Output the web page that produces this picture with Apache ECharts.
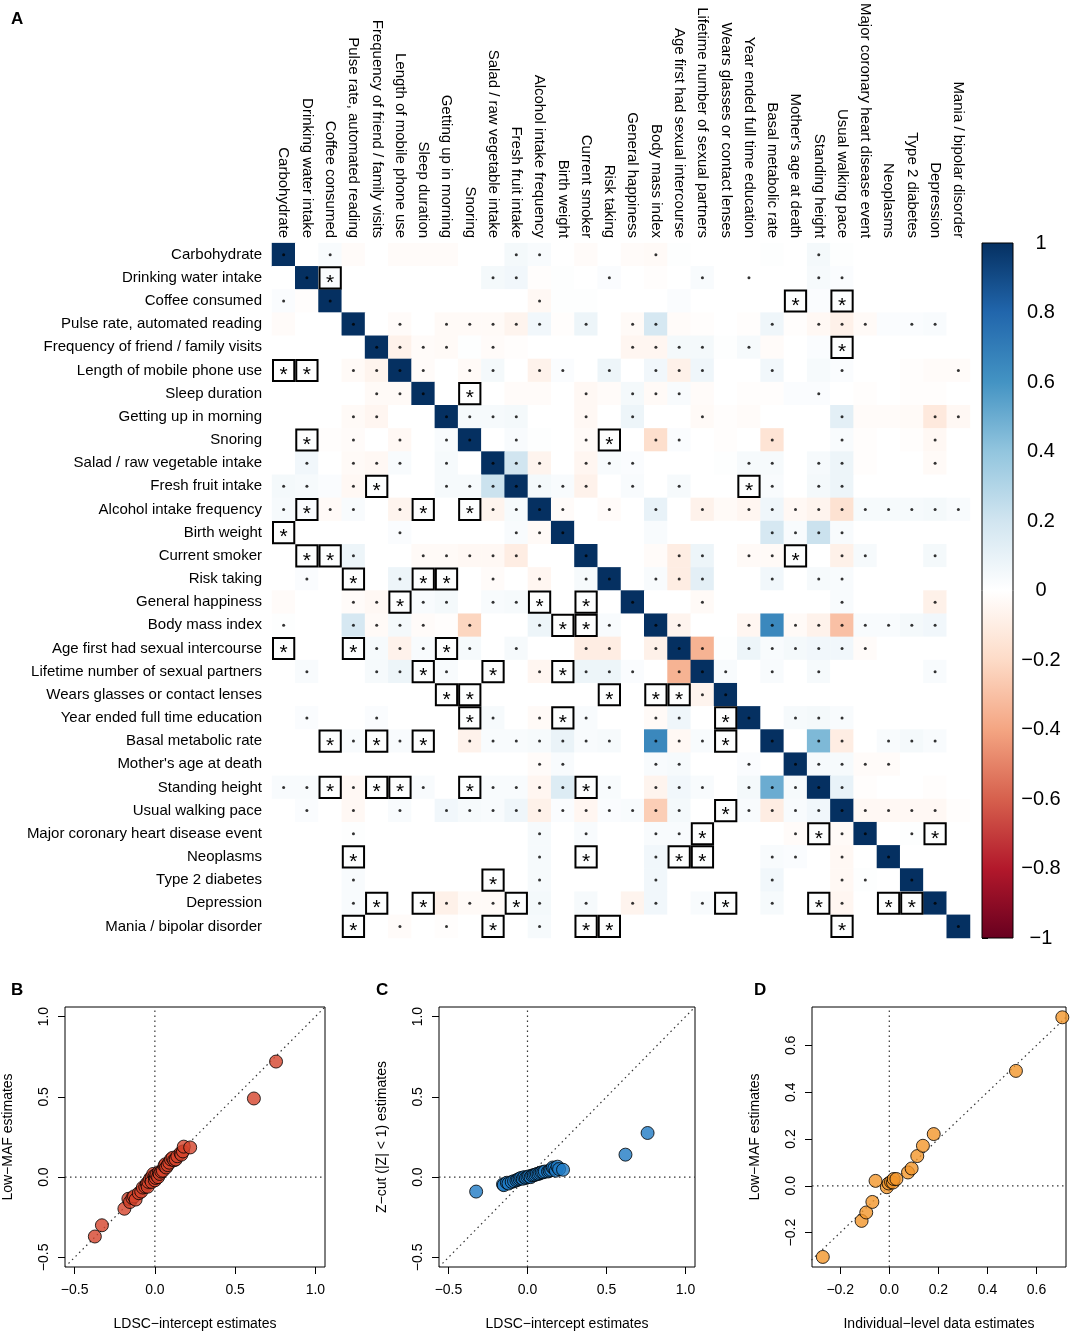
<!DOCTYPE html>
<html>
<head>
<meta charset="utf-8">
<script src="https://cdn.jsdelivr.net/npm/echarts@6/dist/echarts.min.js"></script>
<style>
  html, body { margin: 0; padding: 0; background: #fff; }
  #fig { width: 1076px; height: 1339px; }
</style>
</head>
<body>
<div id="fig"></div>
<script>
// Data
// ------------------------------

var traits = ['Carbohydrate', 'Drinking water intake', 'Coffee consumed', 'Pulse rate, automated reading',
    'Frequency of friend / family visits', 'Length of mobile phone use', 'Sleep duration', 'Getting up in morning',
    'Snoring', 'Salad / raw vegetable intake', 'Fresh fruit intake', 'Alcohol intake frequency', 'Birth weight',
    'Current smoker', 'Risk taking', 'General happiness', 'Body mass index', 'Age first had sexual intercourse',
    'Lifetime number of sexual partners', 'Wears glasses or contact lenses', 'Year ended full time education',
    'Basal metabolic rate', "Mother's age at death", 'Standing height', 'Usual walking pace',
    'Major coronary heart disease event', 'Neoplasms', 'Type 2 diabetes', 'Depression', 'Mania / bipolar disorder'];

// correlation estimates, one row per trait (row = y, column = x)
var corrRows = [
    [1, 0, 0.03, -0.02, 0, -0.02, -0.02, -0.02, 0, 0, 0.05, 0.03, 0, -0.02, 0, -0.02, -0.03, 0.01, 0, 0, 0, 0.01, 0, 0.05, 0.01, 0, 0, 0, 0, 0],
    [0, 1, 0.02, 0, 0, 0, 0, 0, 0, 0.05, 0.06, -0.01, 0.01, 0, 0.02, 0, -0.01, 0, 0.03, 0, 0, 0, 0, 0.04, 0.02, 0, 0, 0, 0, 0],
    [0.02, -0.01, 1, 0, 0, 0, 0, 0, 0, 0, 0, -0.04, 0.01, 0.01, 0, 0, 0, 0.02, 0, 0, 0, 0, 0.01, 0.02, 0.01, 0, 0, 0, 0, 0],
    [-0.02, 0, 0, 1, 0, -0.02, 0, -0.03, -0.03, -0.03, -0.06, 0.06, -0.01, 0.08, 0, -0.03, 0.18, -0.02, -0.01, 0, -0.01, 0.07, -0.01, -0.04, -0.08, -0.03, 0.02, 0.02, 0.03, 0],
    [0, 0, 0, 0, 1, -0.07, -0.02, -0.03, 0.01, -0.02, -0.01, 0, 0, 0, 0, -0.05, -0.05, 0.05, 0.05, 0.01, 0.04, -0.02, 0, 0.02, 0.01, 0, 0, 0, 0, 0],
    [0, 0, 0, -0.03, -0.06, 1, -0.02, 0, -0.03, 0.05, 0, -0.07, 0.02, 0, 0.08, 0, 0.06, -0.08, 0.07, 0, 0, 0.06, 0, 0.04, 0.02, 0, 0, -0.01, -0.02, -0.02],
    [0, 0, 0, 0, -0.03, -0.03, 1, 0, 0, 0, -0.02, -0.02, 0, -0.04, -0.02, 0.05, -0.03, 0.03, -0.02, 0, -0.01, -0.01, 0.02, 0.02, 0, -0.01, 0, -0.01, -0.01, 0],
    [0, 0, 0, -0.03, -0.05, 0, 0, 1, 0.04, 0.04, 0.05, 0, 0, -0.04, 0, 0.08, 0, 0, -0.03, -0.01, -0.02, 0, 0, 0, 0.12, -0.02, -0.02, -0.03, -0.12, -0.04],
    [0, 0.01, -0.01, -0.02, 0, -0.04, 0, 0.03, 1, 0, 0.03, 0.01, 0, -0.03, 0.01, 0, -0.18, 0.02, 0, -0.01, 0, -0.15, 0, 0, 0.03, -0.01, 0, -0.01, -0.04, 0],
    [0, 0.06, 0, -0.03, -0.04, 0.03, 0, 0.04, 0, 1, 0.2, -0.06, 0, -0.05, 0.03, 0.02, 0, 0, 0, 0.01, 0.04, 0.04, 0, 0.04, 0.08, -0.01, 0, 0, -0.03, 0],
    [0.05, 0.04, 0.02, -0.04, 0.01, 0, 0, 0.04, 0.04, 0.22, 1, 0.05, 0.03, -0.07, 0, 0.03, 0, 0.04, 0, 0, 0.01, 0.03, 0, 0.05, 0.08, 0, 0, 0, 0, 0],
    [0.04, 0.02, -0.03, 0.03, 0, -0.06, 0.01, 0, 0.01, -0.06, 0.04, 1, -0.02, 0, -0.02, 0, 0.1, 0, -0.07, -0.03, -0.05, 0.07, -0.04, -0.06, -0.16, 0.04, 0.04, 0.04, 0.05, 0.03],
    [0.01, 0, 0, 0, 0, 0.02, 0, 0, 0, 0, 0.03, -0.03, 1, 0, 0, 0, 0.03, 0, 0, 0, 0, 0.18, 0.03, 0.22, 0.03, 0, 0, 0, 0, 0],
    [0, 0.01, 0.01, 0.08, 0, 0, -0.03, -0.03, -0.04, -0.04, -0.1, 0, 0, 1, 0, 0, -0.02, -0.1, 0.08, 0, -0.03, -0.03, 0.01, 0, -0.08, 0.04, 0, 0, 0.05, 0],
    [0, 0.02, 0, 0.01, 0, 0.08, 0.01, 0.01, 0, -0.02, 0, -0.05, 0, 0.04, 1, 0, 0.03, -0.1, 0.12, 0, 0, 0.06, 0, 0.04, 0.03, 0, 0, 0, 0, 0],
    [-0.02, 0, 0, -0.02, -0.04, 0.01, 0.03, 0.05, 0, 0.03, 0.04, 0.01, 0, 0.01, 0, 1, 0, 0, -0.03, 0, 0, 0, 0, 0, 0.03, 0, 0, 0, -0.08, 0],
    [0.01, 0, 0, 0.18, -0.03, 0.05, -0.02, -0.01, -0.22, 0, 0, 0.08, 0.01, 0.01, 0.03, 0, 1, -0.06, 0, 0, -0.05, 0.65, -0.03, -0.07, -0.3, 0.03, 0.03, 0.05, 0.06, 0],
    [0.01, 0, 0, 0.01, 0.04, -0.07, 0.03, 0.01, 0.04, 0, 0.04, 0, 0, -0.1, -0.1, 0, -0.08, 1, -0.35, 0.01, 0.08, 0.03, 0.05, 0.06, 0.06, -0.02, 0, 0, 0, 0],
    [0, 0.03, 0, 0, 0.04, 0.08, 0.01, 0.03, 0, 0.01, 0, -0.05, 0.01, 0.08, 0.08, 0.02, 0, -0.35, 1, 0.03, 0, 0.03, 0, 0.04, 0, 0, 0, 0, 0.03, 0],
    [0, 0, 0, 0, 0, 0, 0, 0.01, 0.01, 0, 0, 0, 0, 0, 0.01, 0, 0.01, 0.01, -0.06, 1, 0, 0, 0, 0, 0, 0, 0, 0, 0, 0],
    [0, 0.02, 0, 0, 0.02, 0, 0, 0, 0.01, 0.04, 0, -0.03, 0.01, 0.03, 0, 0, -0.03, 0.07, 0, 0.01, 1, 0, 0.04, 0.05, 0.03, 0, 0, 0, 0, 0],
    [0, 0, 0.01, 0.03, 0.01, 0.03, 0.01, 0, -0.07, 0.03, 0.03, 0.04, 0.09, 0.03, 0.04, 0, 0.65, -0.04, 0.03, 0.01, 0, 1, 0, 0.45, -0.1, 0, 0.03, 0.05, 0.03, 0],
    [0, 0, 0, 0, 0, 0, 0, 0, 0, 0, 0, -0.02, 0.03, 0, 0, 0, 0.03, 0.04, 0, 0, 0.02, 0, 1, 0.04, 0.04, -0.02, -0.02, 0, 0, 0],
    [0.03, 0.03, 0.01, -0.04, 0.01, 0.01, 0.03, 0, 0.01, 0.03, 0.03, -0.05, 0.15, 0.01, 0.03, 0, -0.06, 0.06, 0.03, 0, 0.05, 0.5, 0.04, 1, 0.1, -0.01, 0, 0, -0.01, 0],
    [0, 0.02, 0, -0.04, 0, 0.03, 0, 0.06, 0.04, 0.03, 0.07, -0.08, 0.02, -0.05, 0.02, 0.03, -0.25, 0.05, 0, 0.01, 0.03, -0.1, 0.03, 0.06, 1, -0.04, -0.04, -0.04, -0.04, -0.01],
    [0, 0, 0, 0.01, 0, 0, 0, 0, 0, 0, 0, 0.04, 0, 0.03, 0, 0, 0.03, 0.03, 0.01, 0, 0, 0, -0.02, 0.01, -0.03, 1, 0, 0.01, 0.01, 0],
    [0, 0, 0, 0.01, 0, 0, 0, 0, 0, 0, 0, 0.04, 0, 0.01, 0, 0, 0.06, 0.01, 0.01, 0, 0, 0.03, 0.02, 0, -0.04, 0, 1, 0, 0, 0],
    [0, 0, 0, 0.03, 0, 0, 0, 0, 0, 0.01, 0, 0.04, 0, 0, 0, 0, 0.06, 0, 0, 0, 0, 0.06, 0, 0, -0.04, 0.01, 0, 1, 0, 0],
    [0, 0, 0, 0.03, 0.01, 0, 0.01, -0.08, -0.03, -0.03, 0.01, 0.05, 0, 0.04, 0, -0.06, 0.06, 0, 0.03, 0.01, 0, 0.04, 0, 0.01, -0.05, 0, 0.01, 0.01, 1, 0],
    [0, 0, 0, 0.01, 0, -0.02, 0, -0.01, 0, 0.01, 0, 0.04, 0, 0.01, 0.01, 0, 0, 0, 0, 0, 0, 0, 0, 0, 0.01, 0, 0, 0, 0, 1]
];

// columns marked with a small dot, per row
var dotCols = [
    [0, 2, 10, 11, 16, 23],
    [1, 9, 10, 14, 18, 20, 23, 24],
    [0, 2, 11],
    [3, 5, 7, 8, 9, 10, 11, 13, 15, 16, 21, 23, 24, 25, 27, 28],
    [4, 5, 6, 7, 9, 15, 16, 17, 18, 20],
    [3, 4, 5, 6, 8, 9, 11, 12, 14, 16, 17, 18, 21, 24, 29],
    [4, 5, 6, 13, 15, 16, 17, 23],
    [3, 4, 7, 8, 9, 10, 13, 15, 18, 24, 28, 29],
    [3, 5, 7, 8, 10, 13, 16, 17, 21, 24, 28],
    [1, 3, 4, 5, 7, 9, 10, 11, 13, 14, 15, 20, 21, 23, 24, 28],
    [0, 1, 3, 7, 8, 9, 10, 11, 12, 13, 15, 17, 21, 23, 24],
    [0, 2, 3, 5, 9, 10, 11, 12, 14, 16, 18, 20, 21, 22, 23, 24, 25, 26, 27, 28, 29],
    [5, 10, 11, 12, 21, 22, 23, 24],
    [3, 6, 7, 8, 9, 10, 13, 17, 18, 20, 21, 24, 25, 28],
    [1, 5, 9, 11, 13, 14, 16, 17, 18, 21, 23, 24],
    [3, 4, 6, 7, 9, 10, 15, 18, 24, 28],
    [0, 3, 4, 5, 6, 8, 11, 14, 16, 17, 20, 21, 22, 23, 24, 25, 26, 27, 28],
    [4, 5, 6, 8, 10, 13, 14, 16, 17, 18, 20, 21, 22, 23, 24, 25],
    [1, 4, 5, 7, 11, 13, 14, 15, 17, 18, 19, 21, 23, 28],
    [18, 19],
    [1, 4, 9, 11, 13, 16, 17, 20, 22, 23, 24],
    [3, 5, 8, 9, 10, 11, 12, 13, 14, 16, 17, 18, 21, 23, 24, 26, 27, 28],
    [11, 12, 16, 17, 20, 22, 23, 24, 25, 26],
    [0, 1, 3, 6, 9, 10, 11, 12, 14, 16, 17, 18, 20, 21, 22, 23, 24],
    [1, 3, 5, 7, 8, 9, 10, 11, 12, 13, 14, 15, 16, 17, 20, 21, 22, 23, 24, 25, 26, 27, 28],
    [3, 11, 13, 16, 17, 22, 24, 25, 27],
    [11, 16, 21, 22, 24, 26],
    [3, 11, 16, 21, 24, 25, 27],
    [3, 7, 8, 9, 11, 13, 15, 16, 18, 21, 24, 28],
    [5, 7, 11, 29]
];

// columns marked with a boxed star, per row
var starCols = [
    [], [2], [22, 24], [], [24], [0, 1], [8], [], [1, 14], [],
    [4, 20], [1, 6, 8], [0], [1, 2, 22], [3, 6, 7], [5, 11, 13], [12, 13], [0, 3, 7], [6, 9, 12], [7, 8, 14, 16, 17],
    [8, 12, 19], [2, 4, 6, 19], [], [2, 4, 5, 8, 13], [19], [18, 23, 28], [3, 13, 17, 18], [9], [4, 6, 10, 19, 23, 26, 27], [3, 9, 13, 14, 24]
];

// panel B: LDSC-intercept vs low-MAF estimates
var bLdsc = [0.755, 0.617, -0.374, -0.33, -0.19, -0.165, -0.155, -0.14, -0.13, -0.12, -0.10, -0.085, -0.075, -0.06, -0.05,
    -0.045, -0.04, -0.03, -0.02, -0.02, -0.01, 0.0, 0.0, 0.005, 0.01, 0.02, 0.025, 0.03, 0.04, 0.05, 0.06, 0.065, 0.07,
    0.08, 0.09, 0.10, 0.11, 0.12, 0.13, 0.14, 0.16, 0.165, 0.175, 0.18, 0.22];
var bLowMaf = [0.72, 0.49, -0.37, -0.30, -0.197, -0.135, -0.155, -0.13, -0.12, -0.14, -0.10, -0.09, -0.065, -0.06, -0.04,
    -0.06, -0.03, -0.01, 0.0, -0.03, 0.02, 0.01, -0.02, -0.005, 0.015, 0.0, 0.03, 0.02, 0.035, 0.04, 0.07, 0.08, 0.06,
    0.075, 0.09, 0.11, 0.12, 0.105, 0.11, 0.13, 0.15, 0.14, 0.16, 0.19, 0.185];

// panel C: LDSC-intercept vs Z-cut estimates
var cLdsc = [0.76, 0.62, -0.325, -0.155, -0.15, -0.13, -0.12, -0.10, -0.085, -0.07, -0.06, -0.05, -0.04, -0.03, -0.02,
    -0.01, 0.0, 0.01, 0.02, 0.03, 0.04, 0.05, 0.06, 0.07, 0.08, 0.09, 0.10, 0.11, 0.13, 0.14, 0.15, 0.16, 0.17, 0.18,
    0.19, 0.20, 0.225];
var cZcut = [0.275, 0.14, -0.09, -0.045, -0.05, -0.035, -0.04, -0.03, -0.025, -0.02, -0.015, -0.01, -0.005, -0.01, 0.0,
    -0.005, 0.0, 0.005, 0.0, 0.01, 0.012, 0.015, 0.02, 0.02, 0.025, 0.03, 0.03, 0.035, 0.035, 0.04, 0.045, 0.06, 0.055,
    0.04, 0.065, 0.05, 0.046];

// panel D: individual-level vs low-MAF estimates
var dIndiv = [-0.271, -0.113, -0.094, -0.069, -0.056, -0.01, -0.003, 0.007, 0.015, 0.018, 0.029, 0.076, 0.091, 0.114,
    0.137, 0.181, 0.516, 0.705];
var dLowMaf = [-0.304, -0.15, -0.114, -0.069, 0.021, -0.006, 0.01, 0.017, 0.014, 0.029, 0.029, 0.057, 0.074, 0.127,
    0.171, 0.221, 0.491, 0.72];

var rdBu = ['#67001F', '#B2182B', '#D6604D', '#F4A582', '#FDDBC7', '#FFFFFF',
    '#D1E5F0', '#92C5DE', '#4393C3', '#2166AC', '#053061'];


// Setup module
// ------------------------------

var FigureCorr = function() {

    var font = 'Liberation Sans, Arial, Helvetica, sans-serif';

    var fmtNum = function(v) {
        if (Math.abs(v) < 1e-9) return '0.0';
        return (v < 0 ? '\u2212' : '') + Math.abs(v).toFixed(1);
    };

    var zip = function(a, b) {
        return a.map(function(v, i) { return [v, b[i]]; });
    };

    // R-style value axis for the scatter panels
    var scatterAxis = function(idx, min, max, ticks, name, isY) {
        return {
            type: 'value', gridIndex: idx, min: min, max: max,
            name: name, nameLocation: 'middle', nameGap: isY ? 50 : 50,
            nameTextStyle: { fontFamily: font, fontSize: 14, color: '#000' },
            axisLine: { show: false, onZero: false },
            splitLine: { show: false },
            axisTick: { show: true, inside: false, length: 7, customValues: ticks,
                lineStyle: { color: '#000', width: 1 } },
            axisLabel: { customValues: ticks, formatter: fmtNum, fontFamily: font, fontSize: 14,
                color: '#000', margin: isY ? 14 : 16, rotate: isY ? 90 : 0 }
        };
    };

    var refLines = function(idx, xr, yr) {
        var dotted = { color: '#333', width: 1.2, type: [1.5, 3.5] };
        var lo = Math.min(xr[0], yr[0]), hi = Math.max(xr[1], yr[1]);
        var base = { type: 'line', xAxisIndex: idx, yAxisIndex: idx, symbol: 'none', silent: true,
            lineStyle: dotted, z: 1, clip: true };
        return [
            Object.assign({ data: [[0, yr[0]], [0, yr[1]]] }, base),
            Object.assign({ data: [[xr[0], 0], [xr[1], 0]] }, base),
            Object.assign({ data: [[lo, lo], [hi, hi]] }, base)
        ];
    };

    var _init = function() {
        var el = document.getElementById('fig');
        var chart = echarts.init(el, null, { renderer: 'canvas' });

        // Heatmap cells, dots and starred cells
        var cells = [], dots = [], stars = [];
        corrRows.forEach(function(row, r) {
            row.forEach(function(v, c) { cells.push([c, r, v]); });
            dotCols[r].forEach(function(c) { dots.push([c, r]); });
            starCols[r].forEach(function(c) { stars.push([c, r]); });
        });

        var gradStops = rdBu.slice().reverse().map(function(col, i) {
            return { offset: i / (rdBu.length - 1), color: col };
        });

        var xrB = [-0.56, 1.06], xrD = [-0.315, 0.72], yrD = [-0.347, 0.764];
        var ticksB = [-0.5, 0, 0.5, 1], ticksD = [-0.2, 0, 0.2, 0.4, 0.6];

        var series = [
            {
                type: 'heatmap', xAxisIndex: 0, yAxisIndex: 0, data: cells,
                itemStyle: { borderWidth: 0 }, emphasis: { disabled: true }, z: 1
            },
            {
                type: 'scatter', xAxisIndex: 0, yAxisIndex: 0, data: dots,
                symbolSize: 3, itemStyle: { color: '#000' }, silent: true, z: 3
            },
            {
                type: 'custom', xAxisIndex: 0, yAxisIndex: 0, data: stars, z: 4, silent: true,
                renderItem: function(params, api) {
                    var p = api.coord([api.value(0), api.value(1)]);
                    var s = api.size([1, 1]);
                    return {
                        type: 'group',
                        children: [{
                            type: 'rect',
                            shape: { x: p[0] - s[0] / 2 + 1, y: p[1] - s[1] / 2 + 1, width: s[0] - 2, height: s[1] - 2 },
                            style: { fill: 'none', stroke: '#000', lineWidth: 2 }
                        }, {
                            type: 'text',
                            style: { text: '*', x: p[0], y: p[1] + 5, align: 'center', verticalAlign: 'middle',
                                font: '21px ' + font, fill: '#000' }
                        }]
                    };
                }
            },
            // colour key
            {
                type: 'custom', xAxisIndex: 1, yAxisIndex: 1, data: [[0, 0]], silent: true,
                renderItem: function(params, api) {
                    var a = api.coord([0, 1]), b = api.coord([1, -1]);
                    return {
                        type: 'rect',
                        shape: { x: a[0], y: a[1], width: b[0] - a[0], height: b[1] - a[1] },
                        style: { fill: new echarts.graphic.LinearGradient(0, 0, 0, 1, gradStops),
                            stroke: '#000', lineWidth: 1 }
                    };
                }
            }
        ];

        series = series.concat(refLines(2, xrB, xrB), refLines(3, xrB, xrB), refLines(4, xrD, yrD));

        var pointStyle = function(col) {
            return { color: col, borderColor: '#000', borderWidth: 1 };
        };
        series.push(
            { type: 'scatter', xAxisIndex: 2, yAxisIndex: 2, data: zip(bLdsc, bLowMaf), symbolSize: 13,
                itemStyle: pointStyle('#D5432C'), z: 3 },
            { type: 'scatter', xAxisIndex: 3, yAxisIndex: 3, data: zip(cLdsc, cZcut), symbolSize: 13,
                itemStyle: pointStyle('#1F7BC4'), z: 3 },
            { type: 'scatter', xAxisIndex: 4, yAxisIndex: 4, data: zip(dIndiv, dLowMaf), symbolSize: 13,
                itemStyle: pointStyle('#F2962A'), z: 3 }
        );

        var letter = function(t, x, y) {
            return { text: t, left: x, top: y,
                textStyle: { fontFamily: font, fontSize: 17, fontWeight: 'bold', color: '#000' } };
        };

        chart.setOption({
            backgroundColor: '#fff',
            animation: false,
            textStyle: { fontFamily: font },
            title: [letter('A', 6, 6), letter('B', 6, 977), letter('C', 371, 977), letter('D', 749, 977)],
            grid: [
                { left: 272, top: 243, width: 698, height: 695 },
                { left: 982, top: 243, width: 31, height: 695 },
                { left: 65, top: 1007, width: 260, height: 260, show: true, borderColor: '#000', borderWidth: 1 },
                { left: 439, top: 1007, width: 256, height: 260, show: true, borderColor: '#000', borderWidth: 1 },
                { left: 812, top: 1007, width: 254, height: 260, show: true, borderColor: '#000', borderWidth: 1 }
            ],
            visualMap: {
                type: 'continuous', show: false, seriesIndex: 0, dimension: 2,
                min: -1, max: 1, inRange: { color: rdBu }
            },
            xAxis: [
                {
                    type: 'category', gridIndex: 0, data: traits, position: 'top',
                    axisLine: { show: false }, axisTick: { show: false }, splitLine: { show: false },
                    axisLabel: { interval: 0, rotate: 90, margin: 5, fontSize: 15, color: '#000', fontFamily: font }
                },
                { type: 'value', gridIndex: 1, min: 0, max: 1, show: false },
                scatterAxis(2, xrB[0], xrB[1], ticksB, 'LDSC\u2212intercept estimates', false),
                scatterAxis(3, xrB[0], xrB[1], ticksB, 'LDSC\u2212intercept estimates', false),
                scatterAxis(4, xrD[0], xrD[1], ticksD, 'Individual\u2212level data estimates', false)
            ],
            yAxis: [
                {
                    type: 'category', gridIndex: 0, data: traits, inverse: true,
                    axisLine: { show: false }, axisTick: { show: false }, splitLine: { show: false },
                    axisLabel: { interval: 0, margin: 10, fontSize: 15, color: '#000', fontFamily: font }
                },
                {
                    type: 'value', gridIndex: 1, min: -1, max: 1, interval: 0.2, position: 'right',
                    axisLine: { show: false }, splitLine: { show: false },
                    axisTick: { show: true, length: 6, lineStyle: { color: '#000' } },
                    axisLabel: {
                        fontSize: 20, color: '#000', fontFamily: font, align: 'center', margin: 28,
                        formatter: function(v) {
                            if (Math.abs(v) < 1e-9) return '0';
                            if (Math.abs(Math.abs(v) - 1) < 1e-9) return v < 0 ? '\u22121' : '1';
                            return (v < 0 ? '\u2212' : '') + Math.abs(v).toFixed(1);
                        }
                    }
                },
                scatterAxis(2, xrB[0], xrB[1], ticksB, 'Low\u2212MAF estimates', true),
                scatterAxis(3, xrB[0], xrB[1], ticksB, 'Z\u2212cut (|Z| < 1) estimates', true),
                scatterAxis(4, yrD[0], yrD[1], ticksD, 'Low\u2212MAF estimates', true)
            ],
            series: series
        });
    };

    return {
        init: function() {
            _init();
        }
    };
}();


// Initialize module
// ------------------------------

document.addEventListener('DOMContentLoaded', function() {
    FigureCorr.init();
});
</script>
</body>
</html>
